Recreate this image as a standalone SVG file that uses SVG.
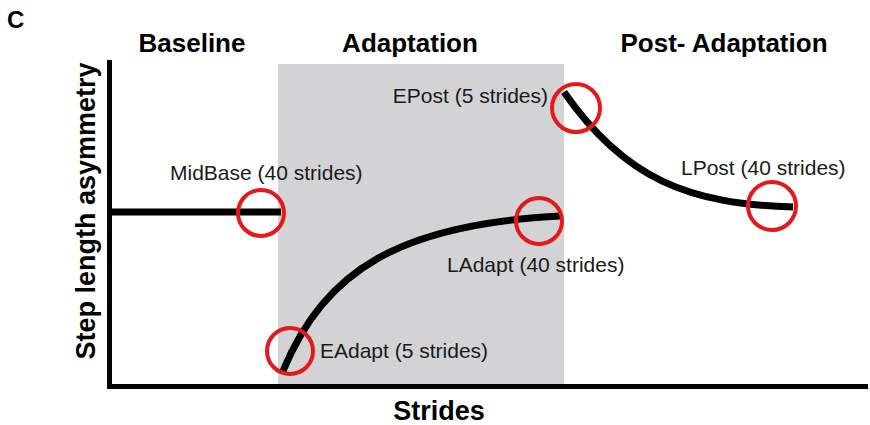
<svg xmlns="http://www.w3.org/2000/svg" width="870" height="425" viewBox="0 0 870 425">
<style>
.h{font-family:"Liberation Sans",Arial,sans-serif;font-weight:bold;font-size:26px;fill:#000}
.l{font-family:"Liberation Sans",Arial,sans-serif;font-size:21px;fill:#1a1a1a}
.c{fill:none;stroke:#e3191c;stroke-width:4}
.k{fill:none;stroke:#000;stroke-width:7}
</style>
<rect width="870" height="425" fill="#fff"/>
<rect x="278" y="64" width="286" height="322" fill="#d3d3d5"/>
<text class="h" x="7" y="28" style="font-size:24px">C</text>
<text class="h" x="192" y="52" text-anchor="middle">Baseline</text>
<text class="h" x="410" y="52" text-anchor="middle">Adaptation</text>
<text class="h" x="724" y="52" text-anchor="middle">Post- Adaptation</text>
<text class="h" transform="translate(95,211) rotate(-90)" text-anchor="middle" style="font-size:27px">Step length asymmetry</text>
<text class="h" x="439" y="420" text-anchor="middle" style="font-size:27px">Strides</text>
<g id="axes" fill="none" stroke="#000" stroke-width="5">
<path d="M109.5,60 V386.5 H868"/>
</g>
<g id="connectors">
<path class="k" d="M109,212 H281"/>
<path class="k" d="M283,371 C325,270 400,224 561,216"/>
<path class="k" d="M564,92 C625,180 690,204 793,207"/>
</g>
<g id="MidBase"><circle class="c" cx="261" cy="213" r="23"/><text class="l" x="170" y="180">MidBase (40 strides)</text></g>
<g id="EAdapt"><circle class="c" cx="290" cy="351" r="23"/><text class="l" x="320" y="358">EAdapt (5 strides)</text></g>
<g id="LAdapt"><circle class="c" cx="539" cy="221" r="23"/><text class="l" x="447" y="272">LAdapt (40 strides)</text></g>
<g id="EPost"><circle class="c" cx="576" cy="108" r="24"/><text class="l" x="548" y="103" text-anchor="end">EPost (5 strides)</text></g>
<g id="LPost"><circle class="c" cx="772" cy="206" r="24"/><text class="l" x="681" y="175">LPost (40 strides)</text></g>
</svg>
